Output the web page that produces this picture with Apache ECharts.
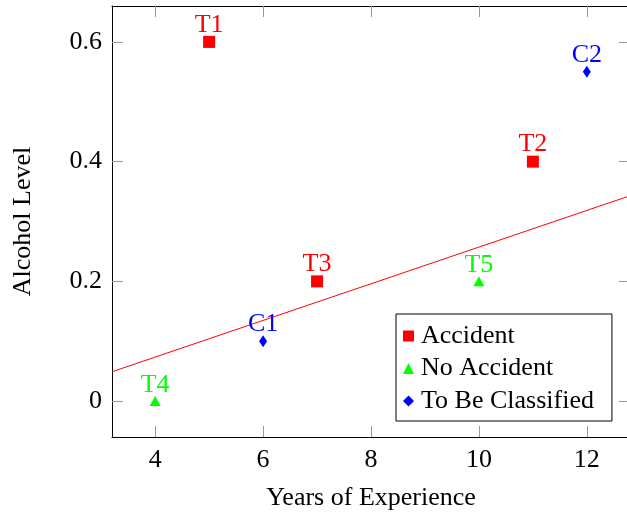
<!DOCTYPE html>
<html><head><meta charset="utf-8">
<script src="https://cdn.jsdelivr.net/npm/echarts@6/dist/echarts.min.js"></script>
<style>html,body{margin:0;padding:0;background:#fff}#c{width:627px;height:512px}</style>
</head><body><div id="c"></div>
<script>
const accident = [[5,0.6,'T1'],[11,0.4,'T2'],[7,0.2,'T3']];
const noAccident = [[4,0,'T4'],[10,0.2,'T5']];
const toClassify = [[6,0.1,'C1'],[12,0.55,'C2']];
const boundary = [[3.2,0.049],[12.8,0.343]];
const xTicks = [4,6,8,10,12];
const yTicks = [0,0.2,0.4,0.6];

const FONT = 'Liberation Serif';
const FS = 26;
const chart = echarts.init(document.getElementById('c'), null, {renderer:'canvas'});
function lab(color){
  return {show:true, position:'top', distance:-2, formatter:p=>p.data[2], color:color, fontFamily:FONT, fontSize:FS};
}
const tickStyle = {show:true, inside:true, length:11, lineStyle:{color:'#999', width:1}};
chart.setOption({
  animation:false,
  grid:{left:112, right:-3, top:6, bottom:75, containLabel:false, outerBoundsMode:'none'},
  xAxis:[{
    type:'value', min:3.2, max:12.8, position:'bottom',
    name:'Years of Experience', nameLocation:'middle', nameGap:48,
    nameTextStyle:{fontFamily:FONT, fontSize:FS, color:'#000'},
    axisLine:{show:true, onZero:false, lineStyle:{color:'#000', width:1}},
    axisTick:{...tickStyle, customValues:xTicks},
    axisLabel:{customValues:xTicks, fontFamily:FONT, fontSize:FS, color:'#000', margin:10},
    splitLine:{show:false}
  },{
    type:'value', min:3.2, max:12.8, position:'top',
    axisLine:{show:true, onZero:false, lineStyle:{color:'#000', width:1}},
    axisTick:{...tickStyle, customValues:xTicks},
    axisLabel:{show:false}, splitLine:{show:false}
  }],
  yAxis:[{
    type:'value', min:-0.06, max:0.66, position:'left',
    name:'Alcohol Level', nameLocation:'middle', nameGap:76, nameRotate:90,
    nameTextStyle:{fontFamily:FONT, fontSize:FS, color:'#000'},
    axisLine:{show:true, onZero:false, lineStyle:{color:'#000', width:1}},
    axisTick:{...tickStyle, customValues:yTicks},
    axisLabel:{customValues:yTicks, fontFamily:FONT, fontSize:FS, color:'#000', margin:10,
      formatter:v=> v===0 ? '0' : v.toFixed(1)},
    splitLine:{show:false}
  },{
    type:'value', min:-0.06, max:0.66, position:'right',
    axisLine:{show:true, onZero:false, lineStyle:{color:'#000', width:1}},
    axisTick:{...tickStyle, customValues:yTicks},
    axisLabel:{show:false}, splitLine:{show:false}
  }],
  legend:{
    data:['Accident','No Accident','To Be Classified'],
    orient:'vertical', left:396, top:314,
    backgroundColor:'#fff', borderColor:'#000', borderWidth:1,
    padding:[9,18,7,7], itemGap:6.5, itemWidth:11, itemHeight:11,
    textStyle:{fontFamily:FONT, fontSize:FS, color:'#000', padding:[0,0,0,2]}
  },
  series:[
    {type:'line', data:boundary, symbol:'none', lineStyle:{color:'#ff0000', width:1}, silent:true, z:1},
    {name:'Accident', type:'scatter', data:accident, symbol:'rect', symbolSize:12,
      itemStyle:{color:'#ff0000', opacity:1}, label:lab('#ff0000'), z:3},
    {name:'No Accident', type:'scatter', data:noAccident, symbol:'triangle', symbolSize:[11,10],
      itemStyle:{color:'#00ff00', opacity:1}, label:lab('#00ff00'), z:3},
    {name:'To Be Classified', type:'scatter', data:toClassify, symbol:'diamond', symbolSize:[8,12],
      itemStyle:{color:'#0000ff', opacity:1}, label:lab('#0000ff'), z:3}
  ]
});
</script></body></html>
